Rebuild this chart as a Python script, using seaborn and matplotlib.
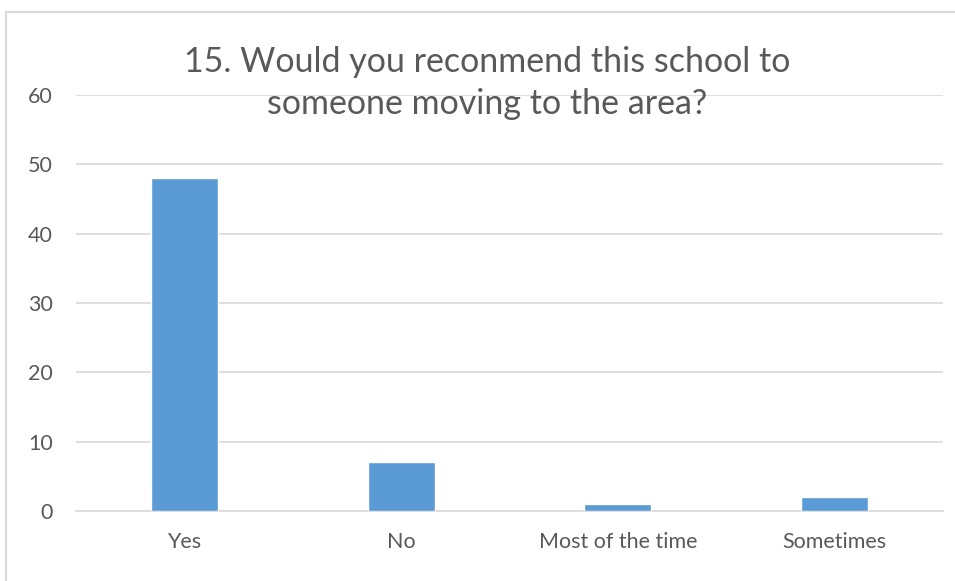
import matplotlib
matplotlib.use("Agg")
import matplotlib.pyplot as plt
import seaborn as sns
import pandas as pd
from matplotlib.patches import Rectangle

categories = ["Yes", "No", "Most of the time", "Sometimes"]
counts = [48, 7, 1, 2]
title = "15. Would you reconmend this school to\nsomeone moving to the area?"

BAR = "#5B9BD5"
GRID = "#D9D9D9"
TXT = "#595959"

sns.set_theme(style="white")
plt.rcParams["font.family"] = ["Lato", "DejaVu Sans"]

df = pd.DataFrame({"answer": categories, "count": counts})

fig = plt.figure(figsize=(9.55, 5.81), dpi=100)
ax = fig.add_axes([76 / 955, 1 - 511 / 581, (943 - 76) / 955, (511 - 95) / 581])

sns.barplot(data=df, x="answer", y="count", color=BAR, width=0.31,
            saturation=1, ax=ax, zorder=3)

ax.set_ylim(0, 60)
ax.set_xlim(-0.5, 3.5)
ax.set_yticks(range(0, 61, 10))
ax.yaxis.grid(True, color=GRID, linewidth=1.2, zorder=0)
ax.xaxis.grid(False)
for s in ["top", "right", "left"]:
    ax.spines[s].set_visible(False)
ax.spines["bottom"].set_color(GRID)
ax.spines["bottom"].set_linewidth(1.2)
ax.set_xlabel("")
ax.set_ylabel("")
ax.tick_params(axis="both", length=0, labelsize=15.5, labelcolor=TXT)
ax.tick_params(axis="y", pad=16.5)
ax.tick_params(axis="x", pad=15)

fig.text(487 / 955, 1 - 83 / 581, title, ha="center", va="center",
         fontsize=24.5, color=TXT, linespacing=1.4)

# chart border
fig.patches.append(Rectangle((6 / 955, -0.05), 1.2, 1 - 12 / 581 + 0.05,
                             transform=fig.transFigure, fill=False,
                             edgecolor=GRID, linewidth=1.5))

fig.savefig("out.png", dpi=100)
